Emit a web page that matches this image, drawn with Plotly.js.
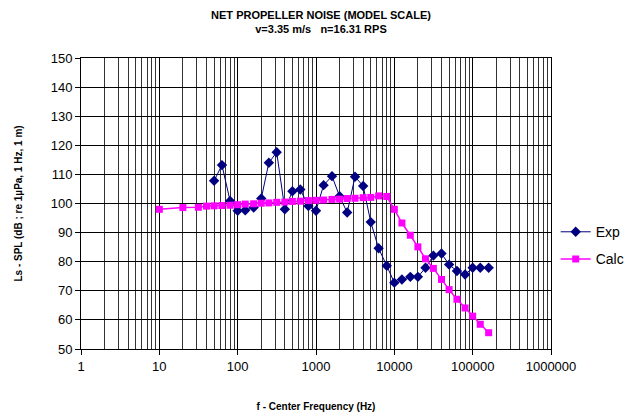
<!DOCTYPE html>
<html>
<head>
<meta charset="utf-8">
<script src="https://cdn.plot.ly/plotly-3.0.1.min.js"></script>
<style>html,body{margin:0;padding:0;background:#fff;}#chart{width:642px;height:418px;}</style>
</head>
<body>
<div id="chart"></div>
<script>
const expFreq = [50, 63, 80, 100, 125, 160, 200, 250, 315, 400, 500, 630, 800, 1000, 1250, 1600, 2000, 2500, 3150, 4000, 5000, 6300, 8000, 10000, 12500, 16000, 20000, 25000, 31500, 40000, 50000, 63000, 80000, 100000, 125000, 160000];
const expVals = [107.8, 113.2, 100.9, 97.5, 97.7, 98.6, 101.7, 114.0, 117.6, 98.0, 104.2, 104.8, 99.1, 97.5, 106.3, 109.4, 102.5, 96.9, 109.2, 106.0, 93.6, 84.6, 78.6, 72.8, 73.9, 74.8, 74.8, 77.9, 82.1, 82.8, 79.0, 76.8, 75.6, 77.9, 77.9, 77.9];

const calcFreq = [10, 20, 31.5, 40, 50, 63, 80, 100, 125, 160, 200, 250, 315, 400, 500, 630, 800, 1000, 1250, 1600, 2000, 2500, 3150, 4000, 5000, 6300, 8000, 10000, 12500, 16000, 20000, 25000, 31500, 40000, 50000, 63000, 80000, 100000, 125000, 160000];
const calcVals = [98.0, 98.6, 98.7, 99.1, 99.2, 99.3, 99.4, 99.6, 99.8, 99.9, 100.1, 100.2, 100.4, 100.5, 100.7, 100.8, 101.0, 101.1, 101.2, 101.4, 101.5, 101.7, 101.8, 102.0, 102.1, 102.6, 102.4, 98.0, 93.3, 89.1, 85.1, 81.0, 77.7, 73.9, 70.4, 67.1, 64.1, 61.3, 58.5, 55.6];

const xTickVals = [1, 10, 100, 1000, 10000, 100000, 1000000];
const xTickText = ['1', '10', '100', '1000', '10000', '100000', '1000000'];
const yTickVals = [50, 60, 70, 80, 90, 100, 110, 120, 130, 140, 150];

const FONT = 'Arial, "Liberation Sans", sans-serif';

const traces = [
  {
    x: expFreq, y: expVals, name: 'Exp', type: 'scatter', mode: 'lines+markers',
    legendgroup: 'a',
    line: {color: '#000080', width: 1},
    marker: {symbol: 'diamond', size: 8, color: '#000080'}
  },
  {
    x: calcFreq, y: calcVals, name: 'Calc', type: 'scatter', mode: 'lines+markers',
    legendgroup: 'b',
    line: {color: '#FF00FF', width: 1.5},
    marker: {symbol: 'square', size: 7, color: '#FF00FF'}
  }
];

const layout = {
  width: 642, height: 418,
  margin: {l: 81, r: 85, t: 58, b: 69},
  paper_bgcolor: '#fff', plot_bgcolor: '#fff',
  font: {family: FONT, color: '#000', size: 13},
  title: {
    text: '<b>NET PROPELLER NOISE (MODEL SCALE)</b><br><b>v=3.35 m/s   n=16.31 RPS</b>',
    font: {family: FONT, size: 11, color: '#000'},
    x: 0.5, xanchor: 'center', yref: 'container', y: 0.955, yanchor: 'middle'
  },
  xaxis: {
    type: 'log', range: [0, 6],
    tickvals: xTickVals, ticktext: xTickText,
    ticks: 'outside', ticklen: 5, tickcolor: '#000',
    showline: true, linecolor: '#000', linewidth: 1, mirror: true,
    showgrid: true, gridcolor: '#000', gridwidth: 1,
    minor: {dtick: 'D1', showgrid: true, gridcolor: '#333', gridwidth: 1, ticks: ''},
    zeroline: false,
    tickfont: {family: FONT, size: 13},
    title: {text: '<b>f - Center Frequency (Hz)</b>', font: {family: FONT, size: 10}, standoff: 30}
  },
  yaxis: {
    range: [50, 150], tickvals: yTickVals,
    ticks: 'outside', ticklen: 5, tickcolor: '#000',
    showline: true, linecolor: '#000', linewidth: 1, mirror: true,
    showgrid: true, gridcolor: '#000', gridwidth: 1,
    zeroline: false,
    tickfont: {family: FONT, size: 13},
    title: {text: '<b>Ls - SPL (dB ; re 1µPa, 1 Hz, 1 m)</b>', font: {family: FONT, size: 10}, standoff: 26}
  },
  showlegend: true,
  legend: {
    x: 1.01, xanchor: 'left', y: 0.355, yanchor: 'middle',
    traceorder: 'grouped', tracegroupgap: 6,
    font: {family: FONT, size: 14, color: '#000'},
    bgcolor: 'rgba(0,0,0,0)', borderwidth: 0
  }
};

Plotly.newPlot('chart', traces, layout, {displayModeBar: false, staticPlot: true});
</script>
</body>
</html>
